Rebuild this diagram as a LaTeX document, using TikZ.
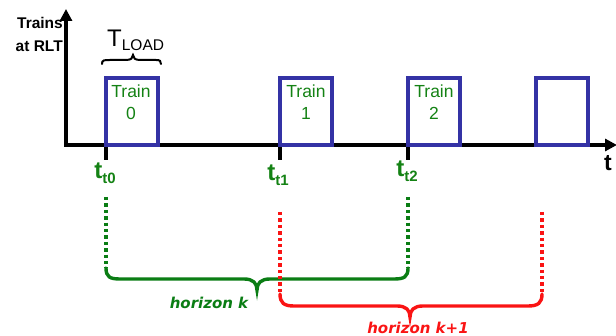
\documentclass[tikz,border=0pt]{standalone}
\usepackage{fontspec}
\setmainfont{Liberation Sans}
\newfontfamily\geofont{DejaVu Sans}
\usetikzlibrary{arrows.meta}

\definecolor{trainblue}{RGB}{52,50,165}
\definecolor{labgreen}{RGB}{20,130,20}
\definecolor{horgreen}{RGB}{10,125,20}
\definecolor{horred}{RGB}{250,20,20}

\tikzset{
  axisline/.style={line width=4pt, black},
  axisarrow/.style={axisline, -{Triangle[length=12pt,width=12pt]}},
  trainbox/.style={draw=trainblue, line width=4pt, minimum width=52pt,
    minimum height=67pt, outer sep=0pt, inner sep=0pt},
  trainlbl/.style={text=labgreen, align=center, inner sep=0pt,
    font=\fontsize{17.5}{22}\selectfont},
  tlab/.style={text=labgreen, inner sep=0pt, font=\fontsize{24}{24}\bfseries},
  gdots/.style={horgreen, line width=3.8pt, dash pattern=on 3.4pt off 3pt},
  rdots/.style={horred, line width=3.8pt, dash pattern=on 3.4pt off 3pt},
  gbrace/.style={horgreen, line width=3.4pt, line cap=round},
  rbrace/.style={horred, line width=3.4pt, line cap=round},
  horlbl/.style={inner sep=0pt, font=\geofont\bfseries\itshape\fontsize{15}{16}\selectfont},
}

\newcommand{\tsub}[1]{t\raisebox{-5pt}{\fontsize{15}{15}\selectfont #1}}

\begin{document}
\begin{tikzpicture}[x=1pt, y=-1pt]
\useasboundingbox (0,0) rectangle (616,336);

% axes
\coordinate (O) at (66,145);
\coordinate (ytop) at (66,9);
\coordinate (xend) at (617,145);
\coordinate (xstart) at (64,145);
\draw[axisarrow] (66,147) -- (ytop);
\draw[axisarrow] (xstart) -- (xend);

% tick positions on the time axis
\coordinate (t0) at (106,145);
\coordinate (t1) at (280,145);
\coordinate (t2) at (408,145);
\coordinate (t0b) at (106,160);
\coordinate (t1b) at (280,160);
\coordinate (t2b) at (408,160);
\draw[axisline] (t0) -- (t0b);
\draw[axisline] (t1) -- (t1b);
\draw[axisline] (t2) -- (t2b);

% axis labels
\node[anchor=east, align=right, inner sep=0pt,
      font=\fontsize{15.5}{23}\bfseries] (ylab) at (63,34) {Trains\\at RLT};
\node[inner sep=0pt, font=\fontsize{23}{23}\bfseries] (tlabel) at (608,163) {t};

% loading pulses
\node[trainbox, anchor=south west] (b0) at (106,145) {};
\node[trainbox, anchor=south west] (b1) at (280,145) {};
\node[trainbox, anchor=south west] (b2) at (408,145) {};
\node[trainbox, anchor=south west] (b3) at (536,145) {};

\node[trainlbl] (l0) at (131,102) {Train\\0};
\node[trainlbl] (l1) at (306,102) {Train\\1};
\node[trainlbl] (l2) at (434,102) {Train\\2};

% load duration
\draw[line width=2pt, line cap=round]
  (102,64) .. controls (102,60) and (104,60) .. (110,60) -- (126,60)
  .. controls (131,60) and (133,58) .. (133,55)
  .. controls (133,58) and (135,60) .. (140,60) -- (156,60)
  .. controls (160,60) and (161,61) .. (161,64);
\node[inner sep=0pt, anchor=base west] (tload) at (107,47)
  {\fontsize{24}{24}\selectfont T\raisebox{-4pt}{\fontsize{15.5}{16}\selectfont LOAD}};

% time instants
\node[tlab] (lt0) at (105,173) {\tsub{t0}};
\node[tlab] (lt1) at (278,175) {\tsub{t1}};
\node[tlab] (lt2) at (407,171) {\tsub{t2}};

% horizon k (green)
\coordinate (g0) at (106,197);
\coordinate (g0e) at (106,268);
\coordinate (g2) at (408,197);
\coordinate (g2e) at (408,268);
\draw[gdots] (g0) -- (g0e);
\draw[gdots] (g2) -- (g2e);
\draw[gbrace] (g0e) .. controls (106,277) and (110,279) .. (120,279) -- (244,279)
  .. controls (253,279) and (257,283) .. (257,290)
  .. controls (257,283) and (261,279) .. (270,279) -- (394,279)
  .. controls (404,279) and (408,277) .. (g2e);
\node[horlbl, text=horgreen] (hk) at (209,303) {horizon k};

% horizon k+1 (red)
\coordinate (r1) at (280,212);
\coordinate (r1e) at (280,294);
\coordinate (r3) at (542,212);
\coordinate (r3e) at (542,294);
\draw[rdots] (r1) -- (r1e);
\draw[rdots] (r3) -- (r3e);
\draw[rbrace] (r1e) .. controls (280,303) and (284,306) .. (294,306) -- (397,306)
  .. controls (406,306) and (410,310) .. (410,317)
  .. controls (410,310) and (414,306) .. (423,306) -- (528,306)
  .. controls (538,306) and (542,303) .. (r3e);
\node[horlbl, text=horred] (hk1) at (418,328) {horizon k+1};
\end{tikzpicture}
\end{document}
